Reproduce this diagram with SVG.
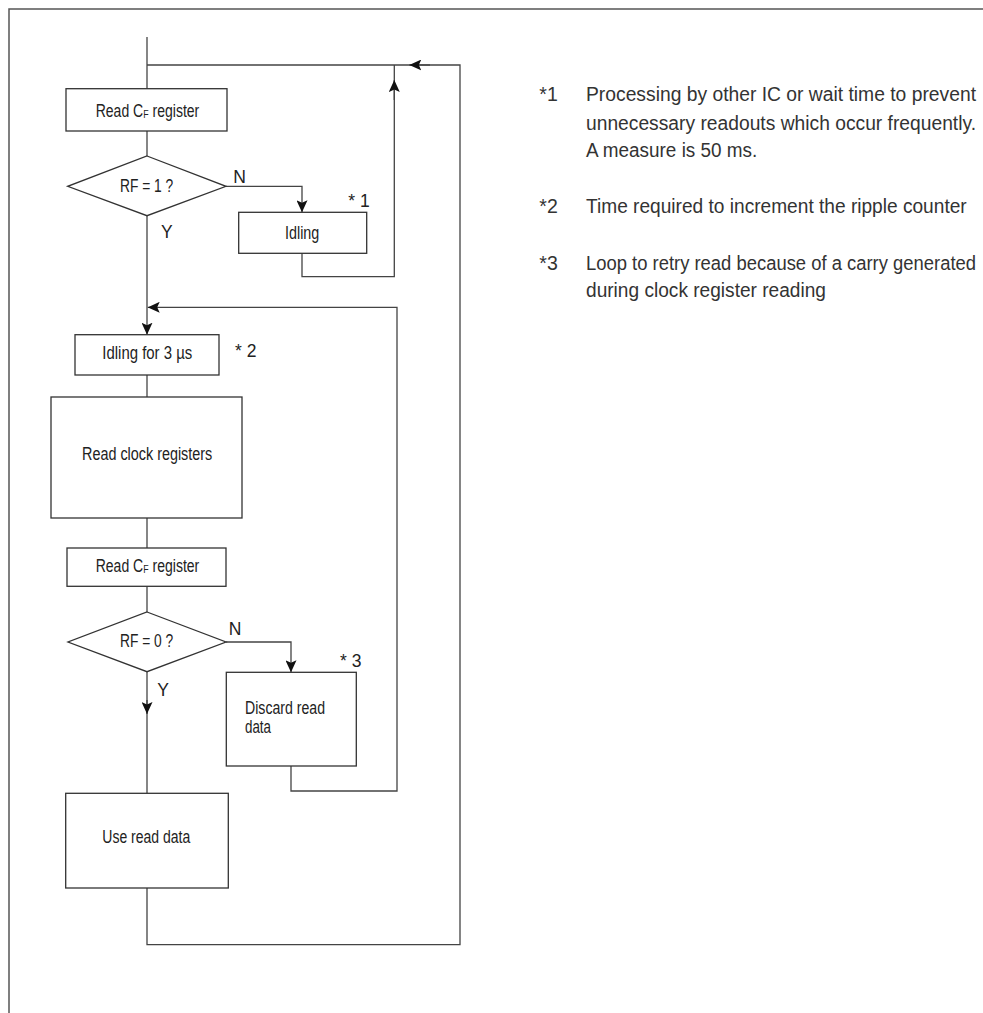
<svg xmlns="http://www.w3.org/2000/svg" width="983" height="1013" viewBox="0 0 983 1013">
<style>
.frame{fill:none;stroke:#555;stroke-width:1.5}
.box{fill:#fff;stroke:#333;stroke-width:1.3}
.ln{fill:none;stroke:#444;stroke-width:1.3}
.t{font-family:'Liberation Sans Narrow','Liberation Sans',Arial,sans-serif;font-size:17.5px;fill:#222}
.n{font-family:'Liberation Sans Narrow','Liberation Sans',Arial,sans-serif;font-size:19.5px;fill:#333}
.sub{font-size:11px}
</style>
<defs>
<marker id="arr" viewBox="0 0 12 11" refX="12" refY="5.5" markerWidth="12" markerHeight="11" markerUnits="userSpaceOnUse" orient="auto">
<path d="M0,0 L12,5.5 L0,11 L2.5,5.5 z" fill="#111"/>
</marker>
</defs>
<rect width="983" height="1013" fill="#fff"/>
<path class="frame" d="M9,1013 V9 H983"/>
<g id="connectors">
<path class="ln" d="M147,37 V89"/>
<path class="ln" d="M147,131 V156"/>
<path class="ln" d="M147,215.7 V334.7" marker-end="url(#arr)"/>
<path class="ln" d="M147,375 V397"/>
<path class="ln" d="M147,518 V548"/>
<path class="ln" d="M147,586.3 V612"/>
<path class="ln" d="M147,671.7 V793.3"/>
<path class="ln" d="M147,700 V714" marker-end="url(#arr)"/>
<path class="ln" d="M147,888 V944.7 H460 V65 H147"/>
<path class="ln" d="M430,65 H409.3" marker-end="url(#arr)"/>
<path class="ln" d="M226,186.3 H302 V212.3" marker-end="url(#arr)"/>
<path class="ln" d="M302,253.3 V276.7 H394.3 V65"/>
<path class="ln" d="M394.3,100 V80" marker-end="url(#arr)"/>
<path class="ln" d="M291,766 V791 H397 V307.3 H147.7" marker-end="url(#arr)"/>
<path class="ln" d="M226,642 H291 V672.3" marker-end="url(#arr)"/>
</g>
<g id="readCF1">
<rect class="box" x="66" y="88.7" width="161" height="42.3"/>
<text class="t" x="95.7" y="117.3" textLength="103.6" lengthAdjust="spacingAndGlyphs">Read C<tspan class="sub" dy="1">F</tspan><tspan dy="-1"> register</tspan></text>
</g>
<g id="dec1">
<polygon class="box" points="147,156 226,186.3 147,215.7 67.7,186.3"/>
<text class="t" x="120" y="191.5" textLength="53.3" lengthAdjust="spacingAndGlyphs">RF = 1 ?</text>
<text class="t" x="233.3" y="182.7">N</text>
<text class="t" x="161" y="238.3">Y</text>
</g>
<g id="idling">
<rect class="box" x="238.7" y="212.3" width="128" height="41"/>
<text class="t" x="285" y="239.3" textLength="34.3" lengthAdjust="spacingAndGlyphs">Idling</text>
<text class="t" x="348.3" y="207.3">* 1</text>
</g>
<g id="idling3">
<rect class="box" x="75" y="334.7" width="144" height="40.3"/>
<text class="t" x="102.3" y="359.3" textLength="90" lengthAdjust="spacingAndGlyphs">Idling for 3 µs</text>
<text class="t" x="235" y="356.7">* 2</text>
</g>
<g id="readClock">
<rect class="box" x="51" y="397" width="191" height="121"/>
<text class="t" x="82" y="460" textLength="130.3" lengthAdjust="spacingAndGlyphs">Read clock registers</text>
</g>
<g id="readCF2">
<rect class="box" x="67" y="548" width="159" height="38.3"/>
<text class="t" x="95.7" y="572.3" textLength="103.6" lengthAdjust="spacingAndGlyphs">Read C<tspan class="sub" dy="1">F</tspan><tspan dy="-1"> register</tspan></text>
</g>
<g id="dec2">
<polygon class="box" points="147,612 226,642 147,671.7 68,642"/>
<text class="t" x="120" y="647" textLength="53.3" lengthAdjust="spacingAndGlyphs">RF = 0 ?</text>
<text class="t" x="228.7" y="635">N</text>
<text class="t" x="157.3" y="696">Y</text>
</g>
<g id="discard">
<rect class="box" x="226.3" y="672.3" width="130" height="93.7"/>
<text class="t" x="245" y="714" textLength="80" lengthAdjust="spacingAndGlyphs">Discard read</text>
<text class="t" x="245" y="733.3" textLength="26" lengthAdjust="spacingAndGlyphs">data</text>
<text class="t" x="340" y="666.7">* 3</text>
</g>
<g id="useData">
<rect class="box" x="65.7" y="793.3" width="162.6" height="94.7"/>
<text class="t" x="102.3" y="842.7" textLength="88" lengthAdjust="spacingAndGlyphs">Use read data</text>
</g>
<g id="notes">
<text class="n" x="539.3" y="101.3">*1</text>
<text class="n" x="586" y="101.3" textLength="390" lengthAdjust="spacingAndGlyphs">Processing by other IC or wait time to prevent</text>
<text class="n" x="586" y="129.7" textLength="390" lengthAdjust="spacingAndGlyphs">unnecessary readouts which occur frequently.</text>
<text class="n" x="586" y="157" textLength="171.3" lengthAdjust="spacingAndGlyphs">A measure is 50 ms.</text>
<text class="n" x="539.3" y="213.3">*2</text>
<text class="n" x="586" y="213.3" textLength="380.7" lengthAdjust="spacingAndGlyphs">Time required to increment the ripple counter</text>
<text class="n" x="539.3" y="270">*3</text>
<text class="n" x="586" y="270" textLength="390" lengthAdjust="spacingAndGlyphs">Loop to retry read because of a carry generated</text>
<text class="n" x="586" y="297.3" textLength="240" lengthAdjust="spacingAndGlyphs">during clock register reading</text>
</g>
</svg>
